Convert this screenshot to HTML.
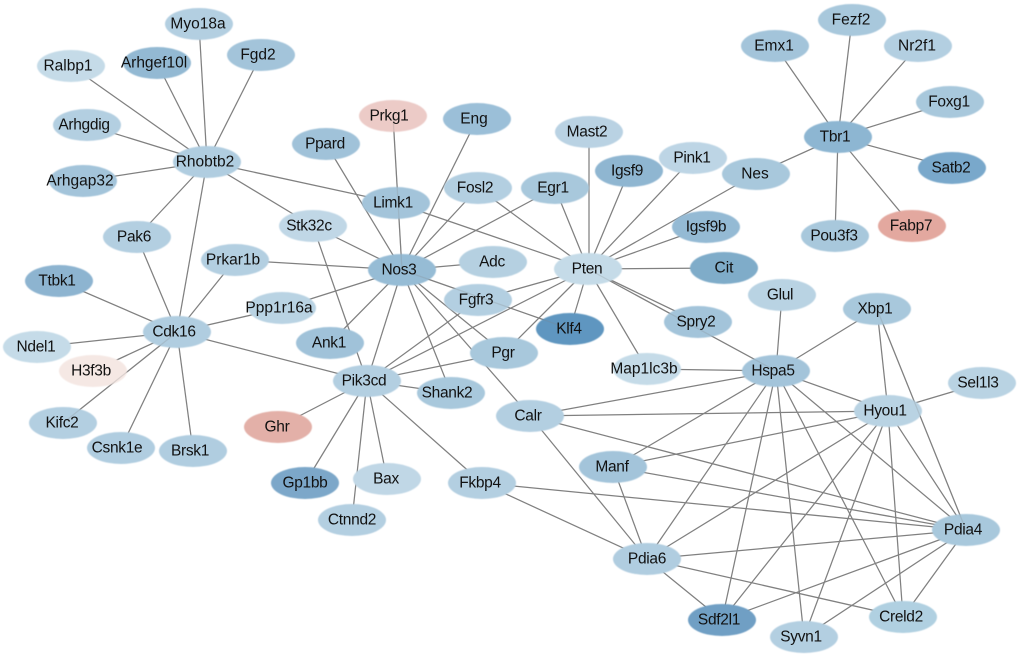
<!DOCTYPE html>
<html><head><meta charset="utf-8"><style>
html,body{margin:0;padding:0;background:#fff;width:1020px;height:657px;overflow:hidden}
svg{display:block}
line{stroke:#808080;stroke-width:1.25}
ellipse{filter:url(#b)}
text{font-family:"Liberation Sans",sans-serif;font-size:15.5px;fill:#111;text-anchor:middle;dominant-baseline:central}
.s{letter-spacing:-.3px}
.o line{stroke-opacity:.22}
</style></head><body>
<svg width="1020" height="657" viewBox="0 0 1020 657" xmlns="http://www.w3.org/2000/svg">
<defs><filter id="b" x="-5%" y="-5%" width="110%" height="110%"><feGaussianBlur stdDeviation="0.4"/></filter></defs>
<g>
<line x1="207" y1="162" x2="199" y2="24"/><line x1="207" y1="162" x2="71" y2="66"/><line x1="207" y1="162" x2="157" y2="63"/><line x1="207" y1="162" x2="261" y2="55"/><line x1="207" y1="162" x2="87" y2="125"/><line x1="207" y1="162" x2="83" y2="181"/><line x1="207" y1="162" x2="137" y2="237"/><line x1="207" y1="162" x2="177" y2="332"/><line x1="207" y1="162" x2="313" y2="226"/><line x1="207" y1="162" x2="396" y2="203"/>
<line x1="396" y1="203" x2="588" y2="269"/><line x1="393" y1="116" x2="402" y2="270"/><line x1="477" y1="119" x2="402" y2="270"/><line x1="326" y1="144" x2="402" y2="270"/><line x1="478" y1="188" x2="402" y2="270"/><line x1="555" y1="188" x2="402" y2="270"/>
<line x1="478" y1="188" x2="588" y2="269"/><line x1="555" y1="188" x2="588" y2="269"/><line x1="589" y1="132" x2="589" y2="269"/><line x1="629" y1="171" x2="588" y2="269"/><line x1="693" y1="158" x2="588" y2="269"/><line x1="756" y1="174" x2="588" y2="269"/><line x1="706" y1="227" x2="588" y2="269"/><line x1="724" y1="268" x2="588" y2="269"/><line x1="698" y1="322" x2="588" y2="269"/><line x1="776" y1="371" x2="588" y2="269"/><line x1="647" y1="369" x2="588" y2="269"/><line x1="570" y1="329" x2="588" y2="269"/><line x1="478" y1="300" x2="588" y2="269"/><line x1="504" y1="353" x2="588" y2="269"/><line x1="367" y1="381" x2="588" y2="269"/>
<line x1="493" y1="262" x2="402" y2="270"/><line x1="402" y1="270" x2="570" y2="329"/><line x1="402" y1="270" x2="504" y2="353"/><line x1="402" y1="270" x2="530" y2="416"/><line x1="402" y1="270" x2="451" y2="393"/><line x1="402" y1="270" x2="367" y2="381"/><line x1="402" y1="270" x2="330" y2="343"/><line x1="402" y1="270" x2="235" y2="260"/><line x1="402" y1="270" x2="313" y2="226"/><line x1="402" y1="270" x2="282" y2="308"/>
<line x1="313" y1="226" x2="367" y2="381"/><line x1="367" y1="381" x2="478" y2="300"/><line x1="367" y1="381" x2="504" y2="353"/><line x1="367" y1="381" x2="451" y2="393"/><line x1="367" y1="381" x2="278" y2="427"/><line x1="367" y1="381" x2="305" y2="483"/><line x1="367" y1="381" x2="352" y2="520"/><line x1="367" y1="381" x2="387" y2="479"/><line x1="367" y1="381" x2="482" y2="483"/><line x1="367" y1="381" x2="177" y2="332"/>
<line x1="177" y1="332" x2="137" y2="237"/><line x1="177" y1="332" x2="235" y2="260"/><line x1="177" y1="332" x2="59" y2="281"/><line x1="177" y1="332" x2="37" y2="347"/><line x1="177" y1="332" x2="93" y2="371"/><line x1="177" y1="332" x2="63" y2="423"/><line x1="177" y1="332" x2="121" y2="448"/><line x1="177" y1="332" x2="193" y2="451"/><line x1="177" y1="332" x2="282" y2="308"/>
<line x1="838" y1="137" x2="775" y2="46"/><line x1="838" y1="137" x2="852" y2="20"/><line x1="838" y1="137" x2="918" y2="46"/><line x1="838" y1="137" x2="950" y2="102"/><line x1="838" y1="137" x2="952" y2="168"/><line x1="838" y1="137" x2="912" y2="226"/><line x1="838" y1="137" x2="835" y2="236"/><line x1="838" y1="137" x2="756" y2="174"/>
<line x1="776" y1="371" x2="782" y2="295"/><line x1="776" y1="371" x2="877" y2="309"/><line x1="776" y1="371" x2="647" y2="369"/><line x1="776" y1="371" x2="530" y2="416"/><line x1="776" y1="371" x2="888" y2="411"/><line x1="776" y1="371" x2="613" y2="467"/><line x1="776" y1="371" x2="966" y2="530"/><line x1="776" y1="371" x2="647" y2="559"/><line x1="776" y1="371" x2="722" y2="620"/><line x1="776" y1="371" x2="804" y2="637"/><line x1="776" y1="371" x2="903" y2="617"/>
<line x1="888" y1="411" x2="530" y2="416"/><line x1="888" y1="411" x2="877" y2="309"/><line x1="888" y1="411" x2="982" y2="383"/><line x1="888" y1="411" x2="966" y2="530"/><line x1="888" y1="411" x2="903" y2="617"/><line x1="888" y1="411" x2="804" y2="637"/><line x1="888" y1="411" x2="722" y2="620"/><line x1="888" y1="411" x2="647" y2="559"/><line x1="888" y1="411" x2="613" y2="467"/>
<line x1="877" y1="309" x2="966" y2="530"/><line x1="530" y1="416" x2="966" y2="530"/><line x1="530" y1="416" x2="647" y2="559"/><line x1="613" y1="467" x2="966" y2="530"/><line x1="613" y1="467" x2="647" y2="559"/><line x1="482" y1="483" x2="966" y2="530"/><line x1="482" y1="483" x2="647" y2="559"/><line x1="647" y1="559" x2="966" y2="530"/><line x1="647" y1="559" x2="722" y2="620"/><line x1="647" y1="559" x2="903" y2="617"/><line x1="966" y1="530" x2="722" y2="620"/><line x1="966" y1="530" x2="804" y2="637"/><line x1="966" y1="530" x2="903" y2="617"/>
</g>
<g>
<ellipse cx="199" cy="24" rx="34" ry="16" fill="#b3cfe1"/><ellipse cx="852" cy="20" rx="34" ry="16" fill="#a8c8dc"/><ellipse cx="775" cy="46" rx="34" ry="16" fill="#a3c4da"/><ellipse cx="918" cy="46" rx="34" ry="16" fill="#b3cfe1"/><ellipse cx="71" cy="66" rx="34" ry="16" fill="#c5dbe8"/><ellipse cx="157" cy="63" rx="34" ry="16" fill="#93b9d3"/><ellipse cx="261" cy="55" rx="34" ry="16" fill="#a3c4da"/><ellipse cx="950" cy="102" rx="34" ry="16" fill="#a8c8dc"/><ellipse cx="393" cy="116" rx="34" ry="16" fill="#eccbc7"/><ellipse cx="477" cy="119" rx="34" ry="16" fill="#9bbfd8"/><ellipse cx="87" cy="125" rx="34" ry="16" fill="#b3cfe1"/><ellipse cx="589" cy="132" rx="34" ry="16" fill="#b9d2e3"/><ellipse cx="838" cy="137" rx="34" ry="16" fill="#8db6d2"/><ellipse cx="326" cy="144" rx="34" ry="16" fill="#a0c2d9"/><ellipse cx="693" cy="158" rx="34" ry="16" fill="#bdd5e5"/><ellipse cx="207" cy="162" rx="34" ry="16" fill="#b0cde0"/><ellipse cx="629" cy="171" rx="34" ry="16" fill="#8fb6d1"/><ellipse cx="756" cy="174" rx="34" ry="16" fill="#a8c8dc"/><ellipse cx="952" cy="168" rx="34" ry="16" fill="#79a8cb"/><ellipse cx="83" cy="181" rx="34" ry="16" fill="#a3c4da"/><ellipse cx="478" cy="188" rx="34" ry="16" fill="#b3cfe1"/><ellipse cx="555" cy="188" rx="34" ry="16" fill="#a8c8dc"/><ellipse cx="396" cy="203" rx="34" ry="16" fill="#a3c4da"/><ellipse cx="313" cy="226" rx="34" ry="16" fill="#c0d7e6"/><ellipse cx="706" cy="227" rx="34" ry="16" fill="#94bad4"/><ellipse cx="912" cy="226" rx="34" ry="16" fill="#e3a89f"/><ellipse cx="835" cy="236" rx="34" ry="16" fill="#a8c8dc"/><ellipse cx="137" cy="237" rx="34" ry="16" fill="#b3cfe1"/><ellipse cx="235" cy="260" rx="34" ry="16" fill="#b3cfe1"/><ellipse cx="493" cy="262" rx="34" ry="16" fill="#b5d0e1"/><ellipse cx="402" cy="270" rx="34" ry="16" fill="#96bcd5"/><ellipse cx="588" cy="269" rx="34" ry="16" fill="#c5dbe8"/><ellipse cx="724" cy="268" rx="34" ry="16" fill="#7facc9"/><ellipse cx="59" cy="281" rx="34" ry="16" fill="#8db4d0"/><ellipse cx="782" cy="295" rx="34" ry="16" fill="#b9d3e3"/><ellipse cx="478" cy="300" rx="34" ry="16" fill="#b3cfe1"/><ellipse cx="698" cy="322" rx="34" ry="16" fill="#a3c4da"/><ellipse cx="877" cy="309" rx="34" ry="16" fill="#a8c8dc"/><ellipse cx="282" cy="308" rx="34" ry="16" fill="#b9d3e3"/><ellipse cx="570" cy="329" rx="34" ry="16" fill="#5f96c0"/><ellipse cx="177" cy="332" rx="34" ry="16" fill="#b0cde0"/><ellipse cx="330" cy="343" rx="34" ry="16" fill="#a0c2d9"/><ellipse cx="37" cy="347" rx="34" ry="16" fill="#c5dbe8"/><ellipse cx="504" cy="353" rx="34" ry="16" fill="#a8c8dc"/><ellipse cx="647" cy="369" rx="34" ry="16" fill="#c5dbe8"/><ellipse cx="776" cy="371" rx="34" ry="16" fill="#a3c4da"/><ellipse cx="93" cy="371" rx="34" ry="16" fill="#f5e8e4"/><ellipse cx="367" cy="381" rx="34" ry="16" fill="#b3cfe1"/><ellipse cx="982" cy="383" rx="34" ry="16" fill="#b9d3e3"/><ellipse cx="451" cy="393" rx="34" ry="16" fill="#a8c8dc"/><ellipse cx="888" cy="411" rx="34" ry="16" fill="#b9d3e3"/><ellipse cx="530" cy="416" rx="34" ry="16" fill="#b3cfe1"/><ellipse cx="63" cy="423" rx="34" ry="16" fill="#b3cfe1"/><ellipse cx="278" cy="427" rx="34" ry="16" fill="#e3b0a8"/><ellipse cx="121" cy="448" rx="34" ry="16" fill="#b0cde0"/><ellipse cx="193" cy="451" rx="34" ry="16" fill="#b0cde0"/><ellipse cx="613" cy="467" rx="34" ry="16" fill="#a3c4da"/><ellipse cx="387" cy="479" rx="34" ry="16" fill="#c0d7e6"/><ellipse cx="305" cy="483" rx="34" ry="16" fill="#7ba7c9"/><ellipse cx="482" cy="483" rx="34" ry="16" fill="#b3cfe1"/><ellipse cx="352" cy="520" rx="34" ry="16" fill="#b3cfe1"/><ellipse cx="966" cy="530" rx="34" ry="16" fill="#a8c8dc"/><ellipse cx="647" cy="559" rx="34" ry="16" fill="#b0cde0"/><ellipse cx="722" cy="620" rx="34" ry="16" fill="#6f9fc4"/><ellipse cx="903" cy="617" rx="34" ry="16" fill="#b0d0e1"/><ellipse cx="804" cy="637" rx="34" ry="16" fill="#b3cfe1"/>
</g>
<g class="o">
<line x1="402" y1="270" x2="570" y2="329"/><line x1="393" y1="116" x2="402" y2="270"/><line x1="776" y1="371" x2="588" y2="269"/><line x1="877" y1="309" x2="966" y2="530"/><line x1="177" y1="332" x2="63" y2="423"/>
</g>
<g>
<text x="198" y="24">Myo18a</text><text x="851" y="20">Fezf2</text><text x="774" y="46">Emx1</text><text x="917" y="46">Nr2f1</text><text x="68" y="66">Ralbp1</text><text x="154" y="63">Arhgef10l</text><text x="258" y="55">Fgd2</text><text x="949" y="102" class="s">Foxg1</text><text x="389" y="116" class="s">Prkg1</text><text x="474" y="119">Eng</text><text x="84" y="125" class="s">Arhgdig</text><text x="587" y="132" class="s">Mast2</text><text x="835" y="137" class="s">Tbr1</text><text x="325" y="144" class="s">Ppard</text><text x="692" y="158" class="s">Pink1</text><text x="205" y="162">Rhobtb2</text><text x="627" y="171" class="s">Igsf9</text><text x="755" y="174">Nes</text><text x="951" y="168" class="s">Satb2</text><text x="80" y="181">Arhgap32</text><text x="475" y="188" class="s">Fosl2</text><text x="553" y="188" class="s">Egr1</text><text x="393" y="203" class="s">Limk1</text><text x="309" y="226" class="s">Stk32c</text><text x="706" y="227" class="s">Igsf9b</text><text x="911" y="226" class="s">Fabp7</text><text x="834" y="236" class="s">Pou3f3</text><text x="134" y="237" class="s">Pak6</text><text x="233" y="260">Prkar1b</text><text x="492" y="262" class="s">Adc</text><text x="399" y="270" class="s">Nos3</text><text x="587" y="269" class="s">Pten</text><text x="724" y="268">Cit</text><text x="57" y="281" class="s">Ttbk1</text><text x="780" y="295" class="s">Glul</text><text x="476" y="300" class="s">Fgfr3</text><text x="696" y="322" class="s">Spry2</text><text x="875" y="309" class="s">Xbp1</text><text x="279" y="308">Ppp1r16a</text><text x="569" y="329" class="s">Klf4</text><text x="174" y="332" class="s">Cdk16</text><text x="329" y="343" class="s">Ank1</text><text x="36" y="347" class="s">Ndel1</text><text x="503" y="353" class="s">Pgr</text><text x="644" y="369">Map1lc3b</text><text x="773" y="371" class="s">Hspa5</text><text x="91" y="371" class="s">H3f3b</text><text x="364" y="381" class="s">Pik3cd</text><text x="978" y="383" class="s">Sel1l3</text><text x="447" y="393" class="s">Shank2</text><text x="885" y="411" class="s">Hyou1</text><text x="528" y="416" class="s">Calr</text><text x="62" y="423" class="s">Kifc2</text><text x="277" y="427" class="s">Ghr</text><text x="117" y="448" class="s">Csnk1e</text><text x="190" y="451" class="s">Brsk1</text><text x="612" y="467" class="s">Manf</text><text x="386" y="479" class="s">Bax</text><text x="305" y="483" class="s">Gp1bb</text><text x="480" y="483" class="s">Fkbp4</text><text x="352" y="520" class="s">Ctnnd2</text><text x="963" y="530" class="s">Pdia4</text><text x="647" y="559" class="s">Pdia6</text><text x="719" y="620" class="s">Sdf2l1</text><text x="901" y="617" class="s">Creld2</text><text x="801" y="637" class="s">Syvn1</text>
</g>
</svg>
</body></html>
